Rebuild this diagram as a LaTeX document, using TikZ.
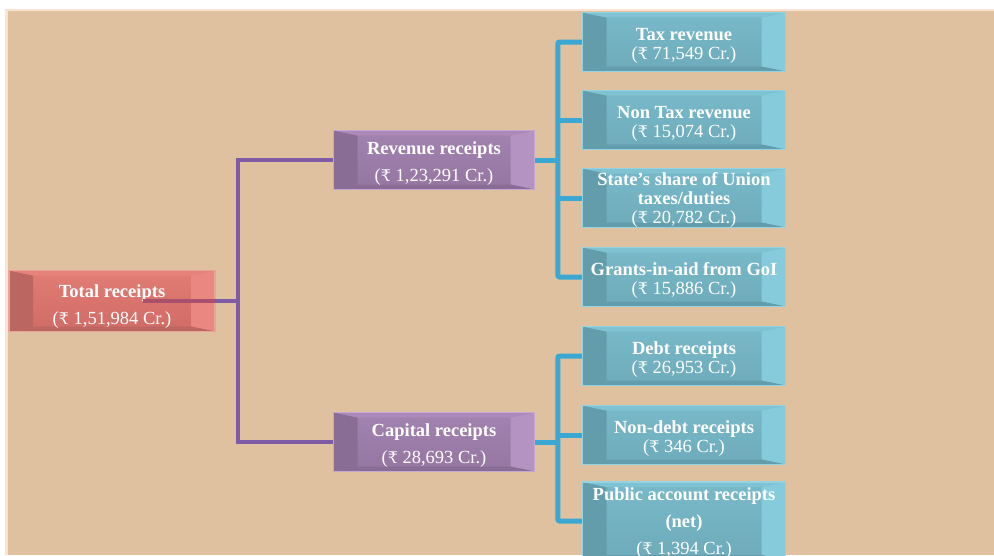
\documentclass[tikz,border=0pt]{standalone}
\usepackage{fontspec}
\setmainfont{Liberation Serif}
\newfontfamily\rupfont{DejaVu Serif}
\newcommand\Rs{{\rupfont\fontsize{16}{16}\selectfont ₹}}
\newcommand\lift[1]{\rule{0pt}{#1pt}}
\definecolor{tanbg}{HTML}{DFC19F}
\definecolor{peach}{HTML}{FBE3D2}
\definecolor{redtop}{HTML}{E17D75}
\definecolor{redbot}{HTML}{D06B65}
\definecolor{reddark}{HTML}{BC6661}
\definecolor{redlight}{HTML}{E98880}
\definecolor{rededge}{HTML}{E9A39B}
\definecolor{purtop}{HTML}{A282AF}
\definecolor{purbot}{HTML}{9576A1}
\definecolor{purdark}{HTML}{8A6D95}
\definecolor{purlight}{HTML}{B493C3}
\definecolor{puredge}{HTML}{C4A8D4}
\definecolor{blutop}{HTML}{78B9C9}
\definecolor{blubot}{HTML}{6EABBA}
\definecolor{bludark}{HTML}{639DAB}
\definecolor{blulight}{HTML}{86CBDB}
\definecolor{bluedge}{HTML}{93D3E2}
\definecolor{purline}{HTML}{7D5BA6}
\definecolor{bluline}{HTML}{3AA8D3}
\definecolor{mauveline}{HTML}{A8506C}
\tikzset{
  bevelbox/.style n args={5}{% top, bottom, dark, light, edge
    rectangle, inner sep=0pt, align=center, text=white,
    top color=#1, bottom color=#2, draw=#5, line width=1.5pt,
    font=\fontsize{18.5}{19}\selectfont,
    path picture={
      \coordinate (bsw) at (path picture bounding box.south west);
      \coordinate (bne) at (path picture bounding box.north east);
      \coordinate (bnw) at (path picture bounding box.north west);
      \coordinate (bse) at (path picture bounding box.south east);
      \fill[#3] (bsw) -- (bnw) -- ([xshift=24pt,yshift=-5pt]bnw) -- ([xshift=24pt,yshift=5pt]bsw) -- cycle;
      \fill[#4] (bse) -- (bne) -- ([xshift=-24pt,yshift=-5pt]bne) -- ([xshift=-24pt,yshift=5pt]bse) -- cycle;
      \fill[#4!50!#1] (bnw) -- (bne) -- ([xshift=-24pt,yshift=-5pt]bne) -- ([xshift=24pt,yshift=-5pt]bnw) -- cycle;
      \fill[#3] (bsw) -- (bse) -- ([xshift=-24pt,yshift=5pt]bse) -- ([xshift=24pt,yshift=5pt]bsw) -- cycle;
    }},
  redbox/.style={bevelbox={redtop}{redbot}{reddark}{redlight}{rededge}, minimum width=206pt, minimum height=61pt},
  purbox/.style={bevelbox={purtop}{purbot}{purdark}{purlight}{puredge}, minimum width=201pt, minimum height=59pt},
  blubox/.style={bevelbox={blutop}{blubot}{bludark}{blulight}{bluedge}, minimum width=203pt, minimum height=59pt},
  pline/.style={draw=purline, line width=4pt},
  bline/.style={draw=bluline, line width=5pt, rounded corners=2pt},
}
\begin{document}
\begin{tikzpicture}[x=1pt,y=-1pt]
\useasboundingbox (0,0) rectangle (994,555);
\fill[white] (0,0) rectangle (994,555);
\fill[peach] (5,9) rectangle (994,555);
\fill[tanbg] (8,11) rectangle (994,555);

\node[redbox] (total) at (112,301) {\lift{23}\textbf{Total receipts}\\[8pt](\Rs{} 1,51,984 Cr.)};
\node[purbox] (rev) at (434,160) {\lift{19}\textbf{Revenue receipts}\\[8pt](\Rs{} 1,23,291 Cr.)};
\node[purbox] (cap) at (434,442) {\lift{19}\textbf{Capital receipts}\\[8pt](\Rs{} 28,693 Cr.)};

\node[blubox] (tax) at (684,42) {\lift{19}\textbf{Tax revenue}\\(\Rs{} 71,549 Cr.)};
\node[blubox] (nontax) at (684,120) {\lift{19}\textbf{Non Tax revenue}\\(\Rs{} 15,074 Cr.)};
\node[blubox] (state) at (684,198) {\lift{17}\textbf{State’s share of Union}\\\textbf{taxes/duties}\\(\Rs{} 20,782 Cr.)};
\node[blubox] (grants) at (684,277) {\lift{19}\textbf{Grants-in-aid from GoI}\\(\Rs{} 15,886 Cr.)};
\node[blubox] (debt) at (684,356) {\lift{19}\textbf{Debt receipts}\\(\Rs{} 26,953 Cr.)};
\node[blubox] (nondebt) at (684,435) {\lift{19}\textbf{Non-debt receipts}\\(\Rs{} 346 Cr.)};
\node[blubox, minimum height=78pt] (pub) at (684,521) {\lift{17}\textbf{Public account receipts}\\[8pt]\textbf{(net)}\\[8pt](\Rs{} 1,394 Cr.)};

% purple connectors
\coordinate (tstart) at (143,301);
\coordinate (pj) at (238,301);
\draw[draw=mauveline, line width=4pt] (tstart) -- (total.east);
\draw[pline] (total.east) -- (pj);
\draw[pline] (rev.west) -| (pj) |- (cap.west);

% blue connectors (revenue)
\draw[bline] (rev.east) -- ++(24,0);
\draw[bline] (tax.west) -- ++(-24,0) |- (grants.west);
\draw[bline] (nontax.west) -- ++(-24,0);
\draw[bline] (state.west) -- ++(-24,0);
% blue connectors (capital)
\draw[bline] (cap.east) -- ++(23,0);
\draw[bline] (debt.west) -- ++(-24,0) |- (pub.west);
\draw[bline] (nondebt.west) -- ++(-24,0);
\end{tikzpicture}
\end{document}
